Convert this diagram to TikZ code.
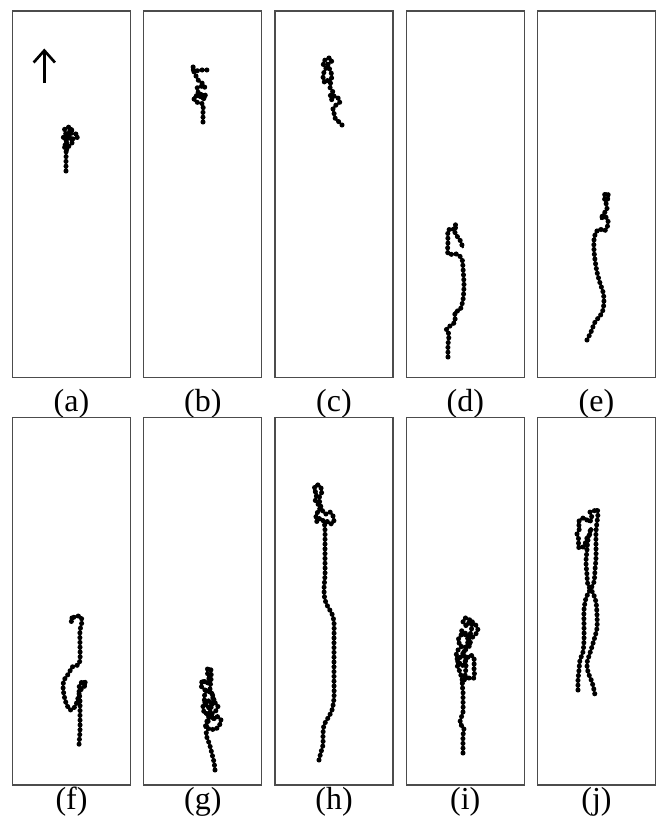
\documentclass[tikz,border=0pt]{standalone}
\usepackage{fontspec}
\setmainfont{Liberation Serif}
\usetikzlibrary{arrows.meta}

\begin{document}
\begin{tikzpicture}[x=0.75pt,y=-0.75pt,
    panel/.style={draw=black!70,line width=0.9pt},
    lbl/.style={anchor=base,font=\fontsize{24}{28}\selectfont,inner sep=0pt},
    track/.style={black,line width=1.4pt,line join=round,
      postaction={draw,line width=3.8pt,dash pattern=on 0pt off 3.6pt,line cap=round}}]
    \useasboundingbox (0,0) rectangle (660,819);
    % top row
    \draw[panel] (12.5,11) rectangle (130.5,377.5);
    \draw[panel] (143.75,11) rectangle (261.75,377.5);
    \draw[panel] (275,11) rectangle (393,377.5);
    \draw[panel] (406.25,11) rectangle (524.25,377.5);
    \draw[panel] (537.5,11) rectangle (655.5,377.5);
    \node[lbl] (la) at (71.5,411) {(a)};
    \node[lbl] (lb) at (202.75,411) {(b)};
    \node[lbl] (lc) at (334,411) {(c)};
    \node[lbl] (ld) at (465.25,411) {(d)};
    \node[lbl] (le) at (596.5,411) {(e)};
    % bottom row
    \draw[panel] (12.5,417.5) rectangle (130.5,785);
    \draw[panel] (143.75,417.5) rectangle (261.75,785);
    \draw[panel] (275,417.5) rectangle (393,785);
    \draw[panel] (406.25,417.5) rectangle (524.25,785);
    \draw[panel] (537.5,417.5) rectangle (655.5,785);
    \node[lbl] (lf) at (71.5,809) {(f)};
    \node[lbl] (lg) at (202.75,809) {(g)};
    \node[lbl] (lh) at (334,809) {(h)};
    \node[lbl] (li) at (465.25,809) {(i)};
    \node[lbl] (lj) at (596.5,809) {(j)};

    \coordinate (tail) at (44.3,83);
    \coordinate (head) at (44.3,48.5);
    \draw[line width=2pt,-{Straight Barb[length=9pt,width=16pt,line width=2pt]}] (tail) -- (head);

    \draw[track] plot[smooth,tension=0.5] coordinates {(66,171) (66,160) (66,150) (64,146) (68,142) (63,138) (66,134) (64,130) (68,127) (72,129) (70,133) (76,134) (78,137) (73,139) (70,137) (72,143) (68,147) (67,150) (65,144) (67,138) (70,131) (74,131)};
    \draw[track] plot[smooth,tension=0.5] coordinates {(203,122) (203,112) (203,104) (199,103) (195,101) (194,97) (199,95) (204,94) (206,97) (202,99) (198,92) (197,88) (201,86) (205,88) (202,83) (198,80) (196,76) (194,72) (193,66) (194,71) (201,70) (207,70)};
    \draw[track] plot[smooth,tension=0.5] coordinates {(342,125) (338,121) (335,118) (334,113) (333,109) (336,105) (340,102) (338,98) (334,96) (332,100) (330,96) (333,92) (330,88) (331,84) (328,80) (325,83) (323,78) (324,72) (326,68) (323,64) (325,60) (329,58) (332,61) (328,64) (330,70) (332,76) (330,82)};
    \draw[track] plot[smooth,tension=0.4] coordinates {(448,357) (448,345) (449,334) (446,330) (450,326) (455,322) (455,312) (460,310) (463,300) (464,285) (463,268) (462,259) (457,254) (448,254) (448,242) (448,230) (453,230) (456,224) (455,233) (460,240) (463,248)};
    \draw[track] plot[smooth,tension=0.5] coordinates {(587,340) (591,332) (595,322) (600,316) (603,310) (604,300) (603,292) (600,283) (597,272) (595,260) (594,250) (594,240) (596,232) (600,229) (604,231) (607,228) (608,220) (604,216) (601,219) (604,213) (607,210) (606,203) (604,197) (606,193) (609,196) (607,200)};

    \draw[track] plot[smooth,tension=0.5] coordinates {(72,618) (71,622) (74,617) (78,616) (81,617) (82,622) (80,630) (80,645) (80,660) (78,665) (72,667) (70,671) (67,676) (64,680) (63,687) (64,695) (66,703) (70,710) (74,708) (77,702) (79,694) (82,688) (86,685) (84,681) (80,684) (79,690) (80,700) (80,715) (80,730) (79,745)};
    \draw[track] plot[smooth,tension=0.5] coordinates {(215,770) (214,762) (212,754) (210,746) (208,740) (206,734) (209,728) (214,730) (219,726) (221,720) (216,716) (213,720) (210,712) (205,714) (203,706) (207,700) (212,704) (214,698) (210,692) (205,690) (201,686) (203,680) (207,684) (209,678) (207,672) (208,668) (211,670) (211,680) (210,690) (213,696) (211,708) (208,722) (205,728) (209,716) (215,712) (218,706) (213,702) (208,708) (204,698) (207,690)};
    \draw[track] plot[smooth,tension=0.5] coordinates {(319,760) (321,752) (323,745) (323,735) (324,725) (328,718) (332,710) (334,698) (334,680) (334,660) (334,640) (334,622) (332,614) (328,607) (325,600) (324,590) (325,575) (325,560) (325,545) (325,530) (324,522) (320,518) (317,522) (316,514) (320,510) (318,504) (315,500) (317,494) (314,490) (316,485) (320,486) (322,492) (319,498) (322,510) (326,514) (330,512) (333,516) (334,522) (330,524) (326,520)};
    \draw[track] plot[smooth,tension=0.5] coordinates {(463,753) (463,745) (463,735) (464,728) (460,724) (461,718) (463,712) (463,700) (463,690) (462,684) (466,678) (474,678) (474,668) (474,658) (470,655) (466,660) (462,666) (459,662) (456,656) (458,650) (462,646) (458,642) (460,636) (465,633) (470,638) (474,636) (478,630) (475,624) (470,621) (467,626) (463,622) (465,618) (469,619) (472,626) (468,642) (464,652) (466,664) (465,676) (463,682) (460,672) (457,664) (461,656) (467,648) (471,644) (466,636) (461,630)};
    \draw[track] plot[smooth,tension=0.5] coordinates {(578,690) (578,680) (579,670) (580,660) (583,652) (584,640) (584,625) (584,610) (586,598) (590,590) (594,582) (595,570) (596,558) (596,545) (596,532) (597,522) (598,514) (597,509) (594,511) (590,512) (592,518) (589,522) (585,518) (581,519) (578,523) (580,528) (577,534) (579,540) (578,547) (582,548) (585,544) (587,538) (590,534) (591,528) (588,540) (587,550) (586,562) (587,575) (588,585) (593,593) (596,602) (597,615) (597,628) (594,640) (590,653) (587,663) (588,672) (592,682) (594,690) (595,695)};
\end{tikzpicture}
\end{document}
